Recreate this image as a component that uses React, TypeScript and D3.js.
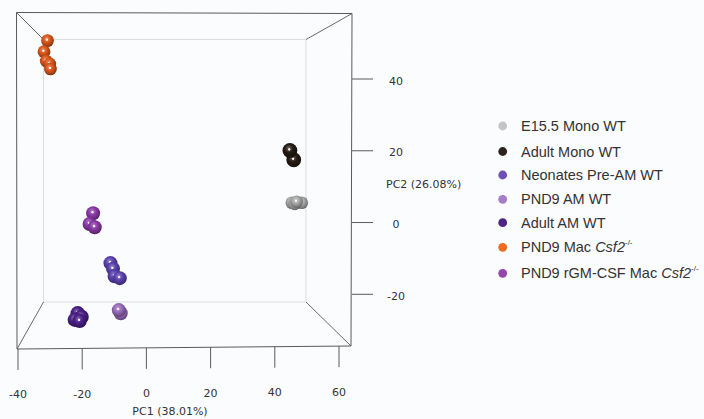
import React from 'react';
import * as d3 from 'd3';

// Scores on the first two principal components, one array pair per sample group
const e155MonoPC1 = [45.3, 48.4, 46.2, 46.8];
const e155MonoPC2 = [5.5, 5.5, 5.2, 5.8];
const adultMonoPC1 = [45.9, 44.7];
const adultMonoPC2 = [17.5, 20.1];
const neonatesPC1 = [-11.2, -10.4, -9.9, -8.3];
const neonatesPC2 = [-11.3, -12.9, -15.0, -15.5];
const pnd9AmPC1 = [-8.0, -8.6];
const pnd9AmPC2 = [-25.3, -24.4];
const adultAmPC1 = [-21.4, -20.2, -22.3, -20.8];
const adultAmPC2 = [-25.3, -26.3, -27.1, -27.4];
const pnd9MacPC1 = [-30.8, -31.9, -31.2, -30.1, -29.9];
const pnd9MacPC2 = [50.7, 47.6, 45.0, 44.2, 42.8];
const rgmPC1 = [-16.6, -17.7, -16.1];
const rgmPC2 = [2.6, -0.4, -1.3];

const groupNames = [
  'E15.5 Mono WT',
  'Adult Mono WT',
  'Neonates Pre-AM WT',
  'PND9 AM WT',
  'Adult AM WT',
  'PND9 Mac ',
  'PND9 rGM-CSF Mac ',
];
const groupGene = ['', '', '', '', '', 'Csf2', 'Csf2'];
const groupPC1 = [e155MonoPC1, adultMonoPC1, neonatesPC1, pnd9AmPC1, adultAmPC1, pnd9MacPC1, rgmPC1];
const groupPC2 = [e155MonoPC2, adultMonoPC2, neonatesPC2, pnd9AmPC2, adultAmPC2, pnd9MacPC2, rgmPC2];

const pc1Ticks = [-40, -20, 0, 20, 40, 60];
const pc2Ticks = [-20, 0, 20, 40];

// Styling
const sphereColors = ['#a9a9a9', '#241b13', '#5a41ae', '#9a6cbc', '#4a1f86', '#d9561a', '#8a39a6'];
const legendColors = ['#c4c4c4', '#2b2219', '#6b52b4', '#a67cc6', '#4c2582', '#ef6a22', '#9447aa'];
const sphereRadius = [6.3, 7.4, 7.0, 7.0, 7.2, 6.4, 7.0];
const drawOrder = [0, 1, 4, 3, 2, 6, 5];

const W = 704;
const H = 419;

// Box corners (front face and receding back face)
const front = { x0: 16.5, y0: 12.5, x1: 352, y1T: 13.5, yB0: 349, yB1: 346 };
const back = { x0: 43.5, y0: 39.5, x1: 306, y1: 302 };

const x = d3.scaleLinear().domain([-40, 60]).range([18, 339]);
const y = d3.scaleLinear().domain([-20, 40]).range([294.3, 79]);

// bottom edge of the front face is slightly tilted
const bottomAt = (px: number) => front.yB0 + ((px - 17) / (351 - 17)) * (front.yB1 - front.yB0);

export default function App() {
  const lighten = (c: string, k: number) => d3.interpolateRgb(c, '#ffffff')(k);
  const darken = (c: string, k: number) => d3.interpolateRgb(c, '#000000')(k);

  return (
    <svg
      width={W}
      height={H}
      style={{ position: 'absolute', left: 0, top: 0, background: '#fbfcfd' }}
    >
      <defs>
        {sphereColors.map((c, i) => (
          <radialGradient key={i} id={`sph${i}`} cx="45%" cy="40%" r="62%" fx="42%" fy="35%">
            <stop offset="0%" stopColor={lighten(c, 0.35)} />
            <stop offset="45%" stopColor={c} />
            <stop offset="85%" stopColor={darken(c, 0.3)} />
            <stop offset="100%" stopColor={darken(c, 0.45)} />
          </radialGradient>
        ))}
        <radialGradient id="spec" cx="50%" cy="50%" r="50%">
          <stop offset="0%" stopColor="#ffffff" stopOpacity={1} />
          <stop offset="55%" stopColor="#ffffff" stopOpacity={0.85} />
          <stop offset="100%" stopColor="#ffffff" stopOpacity={0} />
        </radialGradient>
      </defs>

      {/* back face */}
      <g stroke="#dcdde0" strokeWidth={1} fill="none">
        <line x1={back.x0} y1={back.y0} x2={back.x1} y2={back.y0} />
        <line x1={back.x0} y1={back.y0} x2={back.x0} y2={back.y1} />
        <line x1={back.x1} y1={back.y0} x2={back.x1} y2={back.y1} />
        <line x1={back.x0} y1={back.y1} x2={back.x1} y2={back.y1} />
      </g>

      {/* receding edges */}
      <g stroke="#6a6a6a" strokeWidth={1}>
        <line x1={front.x0} y1={front.y0} x2={back.x0} y2={back.y0} />
        <line x1={front.x1} y1={front.y1T} x2={back.x1} y2={back.y0} />
        <line x1={351} y1={front.yB1} x2={back.x1} y2={back.y1} />
        <line x1={17} y1={front.yB0} x2={back.x0} y2={back.y1} />
      </g>

      {/* front face */}
      <g stroke="#5a5a5a" strokeWidth={1} fill="none">
        <line x1={front.x0} y1={front.y0} x2={front.x1} y2={front.y1T} />
        <line x1={front.x0} y1={front.y0} x2={17} y2={front.yB0} />
        <line x1={front.x1} y1={front.y1T} x2={351} y2={front.yB1} />
        <line x1={17} y1={front.yB0} x2={351} y2={front.yB1} />
      </g>

      {/* PC1 axis */}
      <g fontFamily="DejaVu Sans" fontSize={11} fill="#333">
        {pc1Ticks.map((t) => {
          const px = x(t);
          const top = bottomAt(px);
          return (
            <g key={t}>
              <line x1={px} y1={top} x2={px} y2={top + 21} stroke="#5a5a5a" />
              <text x={px} y={top + 46} textAnchor="middle" dominantBaseline="central">
                {t}
              </text>
            </g>
          );
        })}
        <text x={170} y={411} textAnchor="middle" dominantBaseline="central">
          PC1 (38.01%)
        </text>
      </g>

      {/* PC2 axis */}
      <g fontFamily="DejaVu Sans" fontSize={11} fill="#333">
        {pc2Ticks.map((t) => (
          <g key={t}>
            <line x1={352} y1={y(t)} x2={373} y2={y(t)} stroke="#5a5a5a" />
            <text x={396} y={y(t) + 2} textAnchor="middle" dominantBaseline="central">
              {t}
            </text>
          </g>
        ))}
        <text x={386} y={184} dominantBaseline="central">
          PC2 (26.08%)
        </text>
      </g>

      {/* samples */}
      <g>
        {drawOrder.map((gi) =>
          groupPC1[gi].map((v, j) => {
            const cx = x(v);
            const cy = y(groupPC2[gi][j]);
            const r = sphereRadius[gi];
            return (
              <g key={`${gi}-${j}`}>
                <circle cx={cx} cy={cy} r={r} fill={`url(#sph${gi})`} />
                <circle cx={cx - 0.6} cy={cy - 1.0} r={1.6} fill="url(#spec)" />
              </g>
            );
          })
        )}
      </g>

      {/* legend */}
      <g fontFamily="Liberation Sans, Arial, sans-serif" fontSize={14.5} fill="#333">
        {groupNames.map((name, i) => {
          const ly = [126, 151.5, 175, 199.3, 222.7, 247.3, 273.3][i];
          return (
            <g key={name}>
              <circle cx={502.7} cy={ly} r={4.4} fill={legendColors[i]} />
              <text x={521} y={ly} dominantBaseline="central">
                {name}
                {groupGene[i] && <tspan fontStyle="italic">{groupGene[i]}</tspan>}
                {groupGene[i] && (
                  <tspan fontSize={8} dy={-5}>
                    -/-
                  </tspan>
                )}
              </text>
            </g>
          );
        })}
      </g>
    </svg>
  );
}
